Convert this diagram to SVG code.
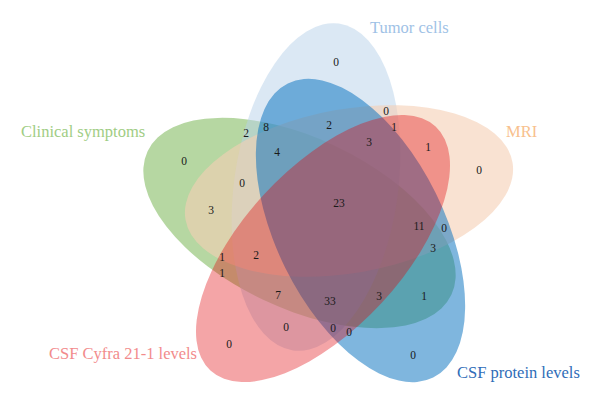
<svg xmlns="http://www.w3.org/2000/svg" width="600" height="404" viewBox="0 0 600 404">
  <style>
    .lbl { font-family: "Liberation Serif", "DejaVu Serif", serif; font-size: 16.5px; }
    .n { font-family: "Liberation Serif", "DejaVu Serif", serif; font-size: 11.5px; fill: #1a1a1a; text-anchor: middle; }
  </style>
  <rect width="600" height="404" fill="#ffffff"/>
  <g id="clinical">
    <ellipse cx="299.5" cy="223" rx="168" ry="85" transform="rotate(25.3 299.5 223)" fill="#6daf45" fill-opacity="0.5"/>
  </g>
  <g id="tumor">
    <ellipse cx="316" cy="187" rx="165" ry="82" transform="rotate(98 316 187)" fill="#b7d1e9" fill-opacity="0.5"/>
  </g>
  <g id="mri">
    <ellipse cx="349" cy="191" rx="166" ry="82" transform="rotate(-10 349 191)" fill="#f5cfb4" fill-opacity="0.6"/>
  </g>
  <g id="protein">
    <ellipse cx="360.5" cy="230.5" rx="164" ry="84" transform="rotate(63.7 360.5 230.5)" fill="#006dbd" fill-opacity="0.5"/>
  </g>
  <g id="cyfra">
    <ellipse cx="323" cy="248.5" rx="166" ry="80" transform="rotate(-47.3 323 248.5)" fill="#e1050a" fill-opacity="0.36"/>
  </g>
  <g id="labels">
    <text class="lbl" x="370" y="33" fill="#9fc2e6">Tumor cells</text>
    <text class="lbl" x="506" y="137" fill="#f8c18e">MRI</text>
    <text class="lbl" x="21" y="137" fill="#9fcd84">Clinical symptoms</text>
    <text class="lbl" x="49" y="359" fill="#f28b8c">CSF Cyfra 21-1 levels</text>
    <text class="lbl" x="457" y="378" fill="#2f6db8">CSF protein levels</text>
  </g>
  <g id="counts">
    <text class="n" x="336" y="66">0</text>
    <text class="n" x="479" y="174">0</text>
    <text class="n" x="184" y="165">0</text>
    <text class="n" x="229" y="348">0</text>
    <text class="n" x="413" y="359">0</text>
    <text class="n" x="246" y="137">2</text>
    <text class="n" x="266" y="131">8</text>
    <text class="n" x="329" y="129">2</text>
    <text class="n" x="386" y="115">0</text>
    <text class="n" x="394" y="131">1</text>
    <text class="n" x="369" y="146">3</text>
    <text class="n" x="428" y="151">1</text>
    <text class="n" x="277" y="156">4</text>
    <text class="n" x="242" y="187">0</text>
    <text class="n" x="211" y="214">3</text>
    <text class="n" x="339" y="207">23</text>
    <text class="n" x="419" y="230">11</text>
    <text class="n" x="444" y="232">0</text>
    <text class="n" x="433" y="252">3</text>
    <text class="n" x="222" y="261">1</text>
    <text class="n" x="256" y="259">2</text>
    <text class="n" x="222" y="277">1</text>
    <text class="n" x="278" y="299">7</text>
    <text class="n" x="330" y="305">33</text>
    <text class="n" x="379" y="300">3</text>
    <text class="n" x="424" y="300">1</text>
    <text class="n" x="286" y="331">0</text>
    <text class="n" x="333" y="332">0</text>
    <text class="n" x="349" y="336">0</text>
  </g>
</svg>
